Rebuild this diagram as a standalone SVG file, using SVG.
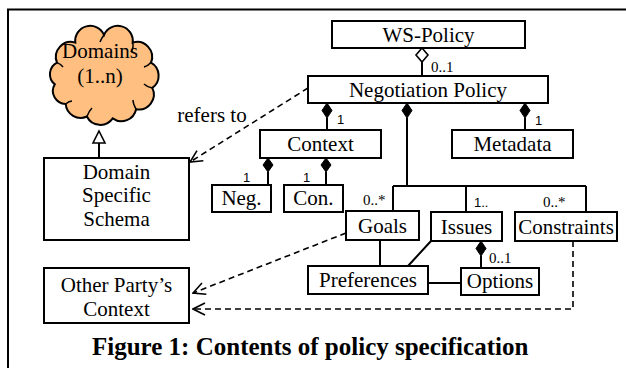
<svg xmlns="http://www.w3.org/2000/svg" width="626" height="368" viewBox="0 0 626 368">
<style>
.box{fill:#fff;stroke:#000;stroke-width:2}
.t{font-family:"Liberation Serif","Times New Roman",serif;font-size:21px;fill:#000;text-anchor:middle}
.lbl{font-family:"Liberation Serif","Times New Roman",serif;font-size:15px;fill:#000}
.num{font-family:"Liberation Sans",Arial,sans-serif;font-size:13px;fill:#000}
.ln{fill:none;stroke:#000;stroke-width:2}
.dash{fill:none;stroke:#000;stroke-width:1.6;stroke-dasharray:6 4}
.dia{fill:#000;stroke:#000;stroke-width:1}
.hdia{fill:#fff;stroke:#000;stroke-width:1.6}
.cap{font-family:"Liberation Serif","Times New Roman",serif;font-size:25px;font-weight:bold;fill:#000}
</style>
<defs>
<marker id="open" viewBox="0 0 14 14" refX="13" refY="7" markerWidth="14" markerHeight="14" markerUnits="userSpaceOnUse" orient="auto">
<path d="M1,1 L13,7 L1,13" fill="none" stroke="#000" stroke-width="1.6"/>
</marker>
</defs>
<rect x="0" y="0" width="626" height="368" fill="#fff"/>
<path d="M8,368 V9.5 H626" fill="none" stroke="#000" stroke-width="2"/>

<g id="domains">
<path d="M104,35 A15,15 0 0 1 132.7,42.6 A15,15 0 0 1 151,62.6 A15,15 0 0 1 152.3,87.9 A15,15 0 0 1 136.1,109.2 A15,15 0 0 1 112.7,118.4 A15,15 0 0 1 86.9,116.5 A15,15 0 0 1 65.7,104 A13,13 0 0 1 54.8,84.3 A13,13 0 0 1 57,62.6 A15,15 0 0 1 75.3,42.6 A15,15 0 0 1 104,35 Z" fill="#FFBF80" stroke="#000" stroke-width="2"/>
<path d="M132.7,42.6 Q134,48 131,52 M151,62.6 Q148,66 144,67 M152.3,87.9 Q147,87 144,84 M136.1,109.2 Q133,104 133,100 M86.9,116.5 Q89,111 92,108 M65.7,104 Q69,101 72,101 M57,62.6 Q61,64 63,67 M104,35 Q101,39 100,42" fill="none" stroke="#000" stroke-width="1.5"/>
<text class="t" x="100" y="58">Domains</text>
<text class="t" x="100" y="83">(1..n)</text>
</g>

<g id="ws-policy"><rect class="box" x="332" y="21" width="193" height="27"/><text class="t" x="428.5" y="42">WS-Policy</text></g>
<g id="negotiation-policy"><rect class="box" x="308" y="76" width="240" height="27"/><text class="t" x="428" y="97">Negotiation Policy</text></g>
<g id="context"><rect class="box" x="260" y="130" width="121" height="28"/><text class="t" x="320.5" y="151">Context</text></g>
<g id="metadata"><rect class="box" x="452" y="130" width="121" height="28"/><text class="t" x="512.5" y="151">Metadata</text></g>
<g id="neg"><rect class="box" x="212" y="185" width="59" height="27"/><text class="t" x="241.5" y="205">Neg.</text></g>
<g id="con"><rect class="box" x="284" y="185" width="59" height="27"/><text class="t" x="313.5" y="205">Con.</text></g>
<g id="goals"><rect class="box" x="346" y="211" width="73" height="29"/><text class="t" x="382.5" y="233">Goals</text></g>
<g id="issues"><rect class="box" x="431" y="212" width="71" height="29"/><text class="t" x="466.5" y="234">Issues</text></g>
<g id="constraints"><rect class="box" x="515" y="212" width="102" height="29"/><text class="t" x="566" y="234">Constraints</text></g>
<g id="preferences"><rect class="box" x="308" y="266" width="120" height="28"/><text class="t" x="368" y="287">Preferences</text></g>
<g id="options"><rect class="box" x="461" y="268" width="78" height="27"/><text class="t" x="500" y="288">Options</text></g>
<g id="domain-specific-schema"><rect class="box" x="44" y="158" width="145" height="82"/>
<text class="t" x="116.5" y="179">Domain</text><text class="t" x="116.5" y="202">Specific</text><text class="t" x="116.5" y="226">Schema</text></g>
<g id="other-party-context"><rect class="box" x="44" y="268" width="145" height="55"/>
<text class="t" x="116.5" y="292">Other Party’s</text><text class="t" x="116.5" y="316">Context</text></g>

<g id="connectors">
<path class="ln" d="M422,62 V76"/>
<path class="hdia" d="M422,48 L428,55 L422,62 L416,55 Z"/>
<text class="lbl" x="431" y="72">0..1</text>

<path class="ln" d="M327,118 V130"/>
<path class="dia" d="M327,103 L332,110.5 L327,118 L322,110.5 Z"/>
<text class="num" x="337" y="124">1</text>

<path class="ln" d="M407,118 V186 M393,186 H586 M393,186 V211 M466,186 V212 M586,186 V212"/>
<path class="dia" d="M407,103 L412,110.5 L407,118 L402,110.5 Z"/>
<text class="lbl" x="363" y="205">0..*</text>
<text class="num" x="474" y="207">1..</text>
<text class="lbl" x="543" y="207">0..*</text>

<path class="ln" d="M525,118 V130"/>
<path class="dia" d="M525,103 L530,110.5 L525,118 L520,110.5 Z"/>
<text class="num" x="535" y="125">1</text>

<path class="ln" d="M268,172 V185"/>
<path class="dia" d="M268,158 L273,165 L268,172 L263,165 Z"/>
<text class="num" x="243" y="182">1</text>
<path class="ln" d="M326,172 V185"/>
<path class="dia" d="M326,158 L331,165 L326,172 L321,165 Z"/>
<text class="num" x="303" y="182">1</text>

<path class="ln" d="M380,240 V266 M431,241 L408,266 M428,283 H461"/>
<path class="ln" d="M481,256 V268"/>
<path class="dia" d="M481,241 L486,248.5 L481,256 L476,248.5 Z"/>
<text class="lbl" x="489" y="263">0..1</text>

<path class="ln" d="M99,143 V158"/>
<path class="hdia" d="M99,131 L105,143 L93,143 Z" stroke-width="2"/>

<path class="dash" d="M308,88 L190,162" marker-end="url(#open)"/>
<text class="t" x="212" y="122">refers to</text>
<path class="dash" d="M346,233 L193,293" marker-end="url(#open)"/>
<path class="dash" d="M573,241 V309 H193" marker-end="url(#open)"/>
</g>

<text class="cap" x="92" y="355">Figure 1: Contents of policy specification</text>
</svg>
